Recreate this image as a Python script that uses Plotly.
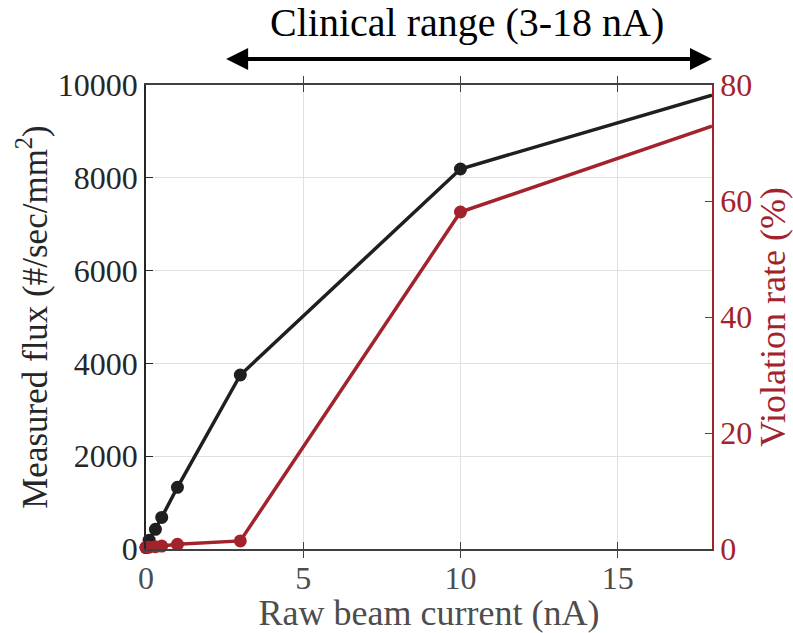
import plotly.graph_objects as go

current_nA = [0, 0.1, 0.3, 0.5, 1, 3, 10, 18]
flux = [30, 190, 425, 680, 1330, 3750, 8190, 9780]
violation_pct = [0.3, 0.3, 0.4, 0.5, 0.8, 1.4, 58.1, 72.9]
marker_sizes = [13, 13, 13, 13, 13, 13, 13, 0]
x_ticks = [0, 5, 10, 15]
flux_ticks = [0, 2000, 4000, 6000, 8000, 10000]
pct_ticks = [0, 20, 40, 60, 80]

BLACK = "#1f1f1f"
RED = "#A3232C"
FONT = "Liberation Serif"

fig = go.Figure()
fig.add_trace(go.Scatter(x=current_nA, y=violation_pct, yaxis="y2", mode="lines+markers",
                         line=dict(color=RED, width=3.5),
                         marker=dict(color=RED, size=marker_sizes, opacity=1, line=dict(width=0)),
                         showlegend=False, cliponaxis=False))
fig.add_trace(go.Scatter(x=current_nA, y=flux, mode="lines+markers",
                         line=dict(color=BLACK, width=3.5),
                         marker=dict(color=BLACK, size=marker_sizes, opacity=1, line=dict(width=0)),
                         showlegend=False, cliponaxis=False))

fig.update_layout(
    width=793, height=633,
    margin=dict(l=146, r=81, t=85, b=84),
    paper_bgcolor="white", plot_bgcolor="white",
    font=dict(family=FONT, size=32, color="#262626"),
    xaxis=dict(range=[0, 18], tickvals=x_ticks, ticktext=[str(v) for v in x_ticks],
               ticks="inside", ticklen=7, automargin=False,
               tickcolor="#404040", showline=True, linecolor="#404040", linewidth=1.5,
               mirror="allticks", showgrid=True, gridcolor="#e0e0e0", zeroline=False,
               tickfont=dict(color="#4d4d4d", size=32),
               title=dict(text="Raw beam current (nA)", font=dict(color="#4d4d4d", size=36), standoff=2)),
    yaxis=dict(range=[0, 10000], tickvals=flux_ticks, ticktext=[str(v) for v in flux_ticks],
               ticks="inside", ticklen=7, automargin=False, tickcolor="#262626", showline=True,
               linecolor="#262626", linewidth=1.5, showgrid=True, gridcolor="#e0e0e0", zeroline=False,
               tickfont=dict(color="#262626", size=32),
               title=dict(text="Measured flux (#/sec/mm<sup>2</sup>)", font=dict(color="#262626", size=35), standoff=0)),
    yaxis2=dict(range=[0, 80], tickvals=pct_ticks, ticktext=[str(v) for v in pct_ticks],
                overlaying="y", side="right", automargin=False,
                ticks="inside", ticklen=7, tickcolor=RED, showline=True, linecolor=RED, linewidth=1.5,
                showgrid=False, zeroline=False, tickfont=dict(color=RED, size=32),
                title=dict(text="Violation rate (%)", font=dict(color=RED, size=36), standoff=12)),
)

fig.add_annotation(x=18, y=1.056, xref="x", yref="paper", ax=2.5, ay=0, axref="x", ayref="pixel",
                   showarrow=True, arrowhead=2, arrowside="end+start", arrowwidth=4, arrowsize=1.1,
                   arrowcolor="black", text="")
fig.add_annotation(x=0.567, y=1.134, xref="paper", yref="paper", xanchor="center", yanchor="middle",
                   showarrow=False, text="Clinical range (3-18 nA)",
                   font=dict(family=FONT, size=40, color="black"))

fig.write_html("out.html")
